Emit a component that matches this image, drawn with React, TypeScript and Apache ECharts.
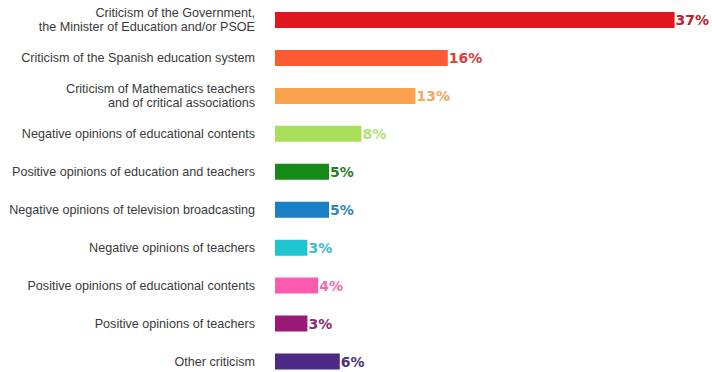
import React, { useEffect, useRef } from "react";
import * as echarts from "echarts";

const categories = [
  "Criticism of the Government,\nthe Minister of Education and/or PSOE",
  "Criticism of the Spanish education system",
  "Criticism of Mathematics teachers\nand of critical associations",
  "Negative opinions of educational contents",
  "Positive opinions of education and teachers",
  "Negative opinions of television broadcasting",
  "Negative opinions of teachers",
  "Positive opinions of educational contents",
  "Positive opinions of teachers",
  "Other criticism",
];
const values = [37, 16, 13, 8, 5, 5, 3, 4, 3, 6];
const barColors = [
  "#e0161f", "#fc5a32", "#fda24c", "#a8de5c", "#158a18",
  "#1b7fc4", "#1fc6d2", "#fd5ab0", "#9a1878", "#4b2b86",
];
const labelColors = [
  "#b8232b", "#d8403a", "#f0a860", "#b5e07a", "#2a7d2a",
  "#2f86b8", "#3cbccc", "#ee6cb4", "#8a2a70", "#4a3278",
];

export default function App() {
  const ref = useRef<HTMLDivElement>(null);
  useEffect(() => {
    if (!ref.current) return;
    const chart = echarts.init(ref.current, undefined, { renderer: "svg" });
    chart.setOption({
      animation: false,
      grid: { left: 275, right: 5, top: 20, bottom: 10.5, containLabel: false },
      xAxis: {
        type: "value",
        min: 0,
        max: 40,
        show: false,
      },
      yAxis: {
        type: "category",
        data: categories,
        inverse: true,
        boundaryGap: false,
        axisLine: { show: false },
        axisTick: { show: false },
        splitLine: { show: false },
        axisLabel: {
          margin: 20,
          color: "#3a3a3a",
          fontFamily: "Liberation Sans, Arial, sans-serif",
          fontSize: 12.6,
          lineHeight: 14,
          align: "right",
        },
      },
      series: [
        {
          type: "bar",
          clip: false,
          barWidth: 16,
          data: values.map((v, i) => ({
            value: v,
            itemStyle: { color: barColors[i] },
            label: { color: labelColors[i] },
          })),
          label: {
            show: true,
            position: "right",
            distance: 1,
            formatter: "{c}%",
            fontFamily: "DejaVu Sans, sans-serif",
            fontWeight: "bold",
            fontSize: 14,
          },
        },
      ],
    });
    return () => chart.dispose();
  }, []);
  return (
    <div
      ref={ref}
      style={{ position: "absolute", left: 0, top: 0, width: 712, height: 372 }}
    />
  );
}
